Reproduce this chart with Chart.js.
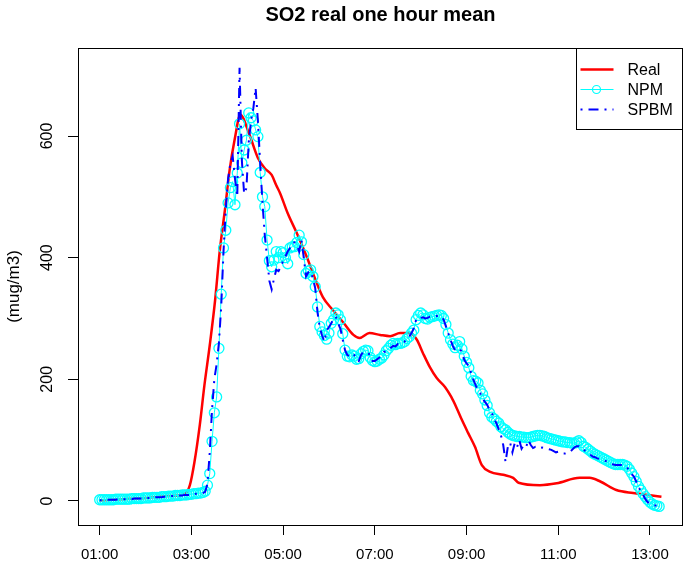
<!DOCTYPE html>
<html>
<head>
<meta charset="utf-8">
<script src="https://cdn.jsdelivr.net/npm/chart.js@4.4.1/dist/chart.umd.min.js"></script>
<style>
  html, body { margin: 0; padding: 0; background: #fff; overflow: hidden; }
  #wrap { width: 685px; height: 562px; }
</style>
</head>
<body>
<div id="wrap"><canvas id="so2Chart"></canvas></div>
<script>
const FONT = "'Liberation Sans', Arial, Helvetica, sans-serif";

const realTimes = ['01:00','01:30','02:00','02:30','02:51','02:58','03:04','03:11','03:17','03:24',
  '03:31','03:37','03:44','03:50','03:57','04:04','04:16','04:27','04:36','04:45',
  '04:51','04:56','05:06','05:18','05:31','05:41','05:52','06:05','06:19','06:32',
  '06:40','06:53','07:07','07:20','07:33','07:46','07:55','08:03','08:12','08:21',
  '08:32','08:40','08:47','08:54','09:02','09:11','09:20','09:31','09:48','10:01',
  '10:08','10:36','10:58','11:28','11:41','11:55','12:16','12:38','13:15'];
const realValues = [1,3,5,8,11,26,64,125,190,256,
  330,410,480,544,597,635,602,564,547,536,
  519,506,473,440,401,368,335,314,293,273,
  268,276,273,271,276,276,265,243,220,202,
  187,171,153,133,112,89,59,48,43,38,
  30,26,29,38,38,32,18,13,7];

// model series, one value every 3 minutes from 01:00
const modelStart = '01:00';
const modelStepMin = 3;
const npmValues = [
  2,2,2,2,2,2,2,3,3,3, 3,3,3,3,4,4,4,4,4,5,
  5,5,5,6,6,6,6,7,7,7, 8,8,8,9,9,9,10,10,10,11,
  11,12,12,13,13,14,16,26,45,98, 145,171,251,340,416,445,490,515,525,487,
  539,620,556,577,593,638,630,625,610,599, 540,500,484,429,395,385,396,410,400,410,
  408,400,390,416,418,418,425,437,426,405, 374,378,380,369,352,319,287,278,272,266,
  276,292,298,309,306,298,275,248,238,237, 240,238,233,234,242,246,248,247,236,231,
  229,230,233,235,240,247,251,256,259,257, 259,259,260,262,267,270,276,281,298,305,
  309,306,300,299,302,303,304,305,306,305, 300,290,276,265,258,252,256,262,250,238,
  228,219,205,198,197,194,182,176,166,157, 145,138,135,131,128,122,119,117,113,110,
  108,107,106,106,105,105,104,104,105,106, 107,108,108,107,106,104,103,102,101,100,
  99,98,97,97,96,96,95,95,97,99, 96,90,88,85,82,79,77,75,73,71,
  69,67,65,63,61,60,60,60,60,59, 57,52,46,40,32,24,18,12,7,2,
  -2,-5,-7,-8,-9];
const spbmValues = [
  1,1,2,2,2,2,2,2,3,3, 3,3,3,3,3,4,4,4,4,4,
  5,5,5,5,6,6,6,6,7,7, 7,8,8,8,9,9,9,10,10,10,
  11,11,12,12,12,13,15,28,80,150, 200,225,260,320,410,480,530,555,567,530,
  500,712,560,505,514,590,625,645,679,625, 555,490,437,400,362,348,365,380,378,385,
  395,402,410,416,424,425,420,410,429,400, 369,376,378,365,350,310,285,272,262,280,
  286,292,300,303,292,283,265,248,240,238, 242,240,232,230,240,245,244,243,240,230,
  230,233,236,240,245,246,248,252,255,254, 258,258,260,262,268,270,276,284,298,302,
  301,302,300,301,303,303,303,304,305,303, 298,287,276,265,255,248,250,250,245,232,
  226,222,210,199,190,182,177,168,163,158, 150,145,135,128,118,108,92,64,89,96,
  80,95,88,100,86,92,89,100,92,87, 89,87,87,88,87,86,85,84,82,80,
  81,80,78,78,79,80,84,88,90,90, 86,84,82,79,76,73,72,70,69,68,
  67,65,63,61,60,59,59,59,59,58, 55,50,44,40,32,24,15,10,3,-2,
  -4,-6,-7,-8,-9];

const seriesLabels = ['Real', 'NPM', 'SPBM'];
const xTickLabels = ['01:00','03:00','05:00','07:00','09:00','11:00','13:00'];
const yTickValues = [0, 200, 400, 600];

const toHours = s => { const p = s.split(':').map(Number); return p[0] + p[1] / 60; };
const t0 = toHours(modelStart);
const realData = realTimes.map((t, i) => ({ x: toHours(t), y: realValues[i] }));
const npmData = npmValues.map((v, i) => ({ x: t0 + i * modelStepMin / 60, y: v }));
const spbmData = spbmValues.map((v, i) => ({ x: t0 + i * modelStepMin / 60, y: v }));

// plot frame + R style legend box
const frameLegend = {
  id: 'frameLegend',
  afterDraw(chart) {
    const { ctx, chartArea: a } = chart;
    ctx.save();
    ctx.strokeStyle = '#000';
    ctx.lineWidth = 1;
    ctx.strokeRect(Math.round(a.left) + 0.5, Math.round(a.top) + 0.5,
      Math.round(a.right - a.left) - 1, Math.round(a.bottom - a.top));

    const w = 106, h = 81;
    const x0 = Math.round(a.right) - w - 0.5, y0 = Math.round(a.top) + 0.5;
    ctx.fillStyle = '#fff';
    ctx.fillRect(x0, y0, w, h);
    ctx.strokeRect(x0, y0, w, h);
    ctx.font = '16px ' + FONT;
    ctx.textBaseline = 'middle';
    chart.data.datasets.forEach((ds, i) => {
      const y = y0 + 21 + i * 20;
      ctx.strokeStyle = ds.borderColor;
      ctx.lineWidth = ds.borderWidth;
      ctx.setLineDash(ds.borderDash || []);
      ctx.beginPath();
      ctx.moveTo(x0 + 4, y);
      ctx.lineTo(x0 + 37, y);
      ctx.stroke();
      ctx.setLineDash([]);
      if (ds.pointRadius > 0) {
        ctx.lineWidth = 1.2;
        ctx.beginPath();
        ctx.arc(x0 + 20, y, 4, 0, Math.PI * 2);
        ctx.stroke();
      }
      ctx.fillStyle = '#000';
      ctx.fillText(ds.label, x0 + 51, y + 1);
    });
    ctx.restore();
  }
};

new Chart(document.getElementById('so2Chart'), {
  type: 'line',
  data: {
    datasets: [
      {
        label: seriesLabels[0], data: realData, order: 3,
        borderColor: '#ff0000', borderWidth: 2.5, pointRadius: 0,
        cubicInterpolationMode: 'monotone'
      },
      {
        label: seriesLabels[1], data: npmData, order: 2,
        borderColor: '#00ffff', borderWidth: 1, tension: 0,
        pointRadius: 5, pointStyle: 'circle', pointBorderWidth: 1.3,
        pointBorderColor: '#00ffff', pointBackgroundColor: 'rgba(0,0,0,0)'
      },
      {
        label: seriesLabels[2], data: spbmData, order: 1,
        borderColor: '#0000ff', borderWidth: 2, borderDash: [2, 6, 10, 6],
        pointRadius: 0, tension: 0
      }
    ]
  },
  options: {
    responsive: true,
    maintainAspectRatio: false,
    animation: false,
    events: [],
    layout: { autoPadding: false, padding: { left: 0, right: 2, top: 0, bottom: 0 } },
    plugins: {
      legend: { display: false },
      tooltip: { enabled: false },
      title: {
        display: true,
        text: 'SO2 real one hour mean',
        fullSize: false,
        color: '#000',
        font: { family: FONT, size: 20, weight: 'bold' },
        padding: { top: 3, bottom: 21 }
      }
    },
    scales: {
      x: {
        type: 'linear',
        min: 0.527,
        max: 13.72,
        afterBuildTicks: s => { s.ticks = xTickLabels.map(l => ({ value: toHours(l) })); },
        afterFit: s => { s.height = 37; s.paddingLeft = 0; s.paddingRight = 0; },
        border: { display: false },
        grid: { drawOnChartArea: false, drawTicks: true, tickLength: 10, tickColor: '#000', tickWidth: 1 },
        ticks: {
          color: '#000', font: { family: FONT, size: 15 }, padding: 11,
          maxRotation: 0, autoSkip: false,
          callback: (v, i) => xTickLabels[i]
        }
      },
      y: {
        type: 'linear',
        min: -39.5,
        max: 744.7,
        afterBuildTicks: s => { s.ticks = yTickValues.map(v => ({ value: v })); },
        afterFit: s => { s.width = 78; s.paddingTop = 0; s.paddingBottom = 0; },
        border: { display: false },
        grid: { drawOnChartArea: false, drawTicks: true, tickLength: 10, tickColor: '#000', tickWidth: 1 },
        title: {
          display: true, text: '(mug/m3)', color: '#000',
          font: { family: FONT, size: 17 }, padding: { top: 4, bottom: 0 }
        },
        ticks: {
          color: '#000', font: { family: FONT, size: 16 }, padding: 7,
          minRotation: 90, maxRotation: 90, crossAlign: 'center', autoSkip: false
        }
      }
    }
  },
  plugins: [frameLegend]
});
</script>
</body>
</html>
